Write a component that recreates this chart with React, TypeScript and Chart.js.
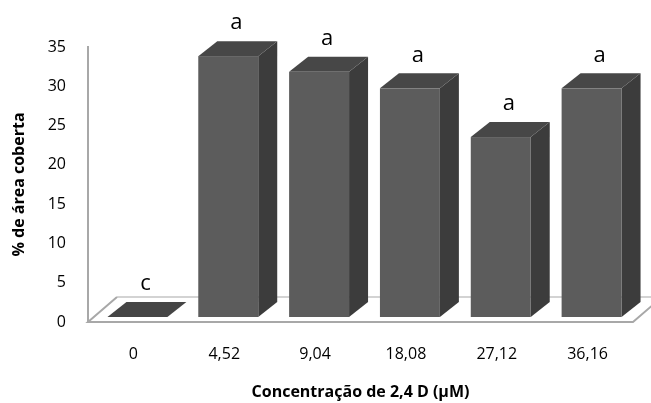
import React, { useEffect, useRef } from "react";
import { Chart, registerables } from "chart.js";

Chart.register(...registerables);

const categories = ["0", "4,52", "9,04", "18,08", "27,12", "36,16"];
const areaValues = [0, 33.2, 31.2, 29.1, 22.9, 29.1];
const letters = ["c", "a", "a", "a", "a", "a"];
const yTitle = "% de área coberta";
const xTitle = "Concentração de 2,4 D (µM)";

const FONT = "'Open Sans', 'DejaVu Sans', sans-serif";
const FRONT = "#5c5c5c";
const TOP = "#474747";
const SIDE = "#3c3c3c";
const FLAT = "#454545";
const SHIFT_X = 4;
const SHIFT_Y = -5;
const DEPTH_X = 19;
const DEPTH_Y = -15;
const FLOOR_X = 29;
const FLOOR_Y = -25;

const floorPlugin = {
  id: "floor3d",
  beforeDatasetsDraw(chart: any) {
    const { ctx, chartArea } = chart;
    const l = chartArea.left;
    const r = chartArea.right;
    const b = chartArea.bottom;
    const t = chartArea.top;
    ctx.save();
    ctx.strokeStyle = "#c4c4c4";
    ctx.lineWidth = 1.5;
    ctx.beginPath();
    ctx.moveTo(l + FLOOR_X, b + FLOOR_Y);
    ctx.lineTo(r + FLOOR_X, b + FLOOR_Y);
    ctx.stroke();
    ctx.strokeStyle = "#a8a8a8";
    ctx.lineWidth = 2;
    ctx.beginPath();
    ctx.moveTo(l + FLOOR_X, b + FLOOR_Y);
    ctx.lineTo(l, b);
    ctx.lineTo(r, b);
    ctx.lineTo(r + FLOOR_X, b + FLOOR_Y);
    ctx.stroke();
    ctx.beginPath();
    ctx.moveTo(l, t - 1);
    ctx.lineTo(l, b);
    ctx.stroke();
    ctx.restore();
  },
  afterDatasetsDraw(chart: any) {
    const { ctx } = chart;
    const meta = chart.getDatasetMeta(0);
    ctx.save();
    meta.data.forEach((el: any, i: number) => {
      const p = el.getProps(["x", "y", "base", "width"], true);
      const left = p.x - p.width / 2 + SHIFT_X;
      const right = p.x + p.width / 2 + SHIFT_X;
      const top = p.y + SHIFT_Y;
      const bottom = p.base + SHIFT_Y;
      const flat = bottom - top < 1;
      if (!flat) {
        ctx.fillStyle = SIDE;
        ctx.beginPath();
        ctx.moveTo(right, top);
        ctx.lineTo(right + DEPTH_X, top + DEPTH_Y);
        ctx.lineTo(right + DEPTH_X, bottom + DEPTH_Y);
        ctx.lineTo(right, bottom);
        ctx.closePath();
        ctx.fill();
        ctx.fillStyle = FRONT;
        ctx.fillRect(left, top, right - left, bottom - top);
      }
      ctx.fillStyle = flat ? FLAT : TOP;
      ctx.beginPath();
      ctx.moveTo(left, top);
      ctx.lineTo(left + DEPTH_X, top + DEPTH_Y);
      ctx.lineTo(right + DEPTH_X, top + DEPTH_Y);
      ctx.lineTo(right, top);
      ctx.closePath();
      ctx.fill();
      ctx.fillStyle = "#000";
      ctx.font = `22px ${FONT}`;
      ctx.textAlign = "center";
      ctx.textBaseline = "middle";
      ctx.fillText(letters[i], p.x + SHIFT_X + 8, top + DEPTH_Y - 18);
    });
    ctx.restore();
  },
};

export default function App() {
  const ref = useRef<HTMLCanvasElement | null>(null);
  useEffect(() => {
    document.body.style.margin = "0";
    const canvas = ref.current;
    if (!canvas) return;
    const chart = new Chart(canvas, {
      type: "bar",
      data: {
        labels: categories,
        datasets: [
          {
            data: areaValues,
            backgroundColor: "rgba(0,0,0,0)",
            borderWidth: 0,
            categoryPercentage: 1,
            barPercentage: 0.66,
          },
        ],
      },
      options: {
        responsive: false,
        animation: false,
        devicePixelRatio: 1,
        layout: { padding: { top: 47, right: 18, left: 0, bottom: 0 } },
        plugins: {
          legend: { display: false },
          tooltip: { enabled: false },
        },
        scales: {
          x: {
            grid: { display: false, drawTicks: false },
            border: { display: false },
            ticks: {
              color: "#000",
              font: { family: FONT, size: 16 },
              padding: 23,
            },
            title: {
              display: true,
              text: xTitle,
              color: "#000",
              font: { family: FONT, size: 16, weight: "bold" },
              padding: { top: 0, bottom: 1 },
            },
            afterFit(scale: any) {
              scale.height = 81;
            },
          },
          y: {
            min: 0,
            max: 35,
            grid: { display: false, drawTicks: false },
            border: { display: false },
            ticks: {
              stepSize: 5,
              color: "#000",
              font: { family: FONT, size: 16 },
              padding: 22,
            },
            title: {
              display: true,
              text: yTitle,
              color: "#000",
              font: { family: FONT, size: 16, weight: "bold" },
              padding: { top: 10, bottom: 0 },
            },
            afterFit(scale: any) {
              scale.width = 88;
            },
          },
        },
      },
      plugins: [floorPlugin],
    });
    return () => chart.destroy();
  }, []);
  return (
    <div style={{ width: 651, height: 403, background: "#fff" }}>
      <canvas ref={ref} width={651} height={403} />
    </div>
  );
}
